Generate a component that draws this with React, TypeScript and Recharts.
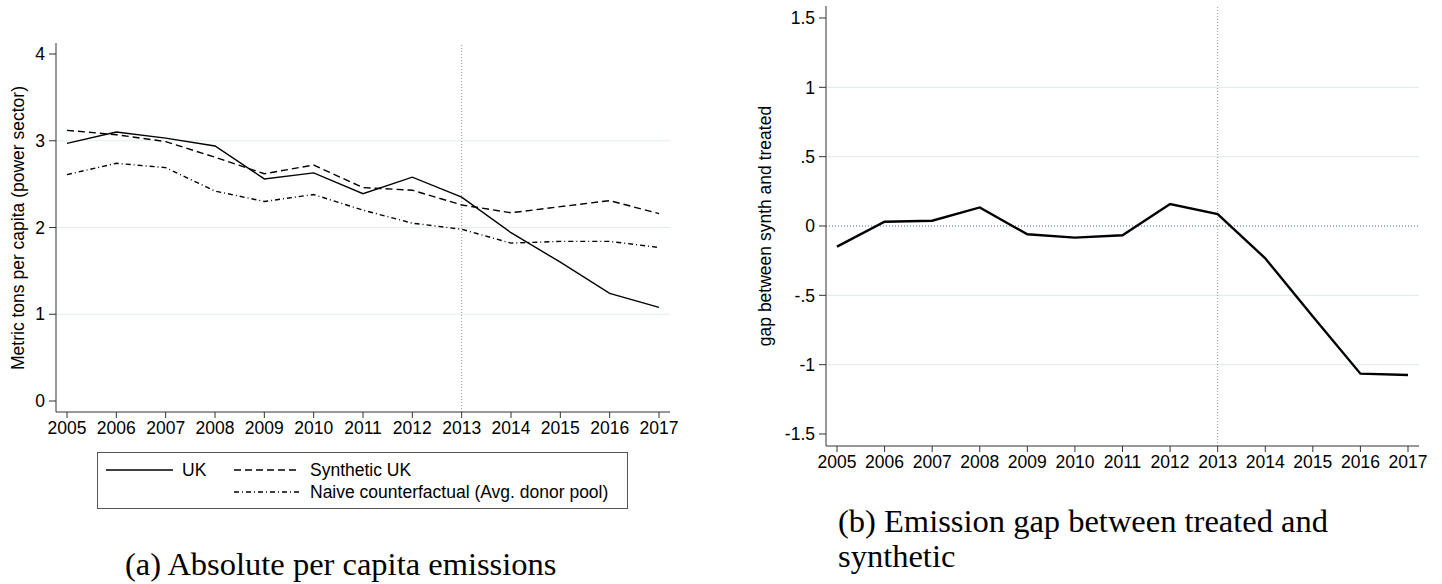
import React from 'react';
import { LineChart, Line, XAxis, YAxis, ReferenceLine } from 'recharts';

// values
const years = [2005, 2006, 2007, 2008, 2009, 2010, 2011, 2012, 2013, 2014, 2015, 2016, 2017];
const ukEmissions = [2.97, 3.1, 3.03, 2.94, 2.56, 2.63, 2.39, 2.58, 2.35, 1.94, 1.6, 1.24, 1.08];
const syntheticUk = [3.12, 3.07, 2.99, 2.81, 2.62, 2.72, 2.46, 2.43, 2.26, 2.17, 2.24, 2.31, 2.16];
const naiveCounterfactual = [2.61, 2.74, 2.69, 2.42, 2.3, 2.38, 2.2, 2.05, 1.98, 1.82, 1.84, 1.84, 1.77];
const gapSynthTreated = [-0.149, 0.031, 0.038, 0.134, -0.06, -0.084, -0.067, 0.158, 0.086, -0.233, -0.652, -1.065, -1.074];

const leftTicks = [0, 1, 2, 3, 4];
const leftGrid = [1, 2, 3];
const rightTicks = [-1.5, -1, -0.5, 0, 0.5, 1, 1.5];
const rightGrid = [-1, -0.5, 0.5, 1];
const treatmentYear = 2013;

const series = [
  { key: 'uk', name: 'UK', dash: undefined as string | undefined },
  { key: 'synth', name: 'Synthetic UK', dash: '7 4' },
  { key: 'naive', name: 'Naive counterfactual (Avg. donor pool)', dash: '5 3 1 3' },
];

const absRows = years.map((year, i) => ({
  year,
  uk: ukEmissions[i],
  synth: syntheticUk[i],
  naive: naiveCounterfactual[i],
}));
const gapRows = years.map((year, i) => ({ year, gap: gapSynthTreated[i] }));

const SANS = '"Liberation Sans", Arial, sans-serif';
const SERIF = '"Liberation Serif", "Times New Roman", serif';
const FS = 17.5;
const tickStyle = { fontSize: FS, fill: '#000', fontFamily: SANS };
const axisStroke = { stroke: '#333' };

// stata style: .5 instead of 0.5
const stataNum = (v: number) => String(v).replace('0.', '.');

function LegendBox() {
  return (
    <div
      style={{
        position: 'absolute',
        left: 97,
        top: 452,
        width: 531,
        height: 57,
        boxSizing: 'border-box',
        border: '1px solid #555',
        fontFamily: SANS,
        fontSize: 17.5,
      }}
    >
      {series.map((s, i) => {
        const left = i === 0 ? 8 : 136;
        const top = i === 2 ? 39 : 17;
        return (
          <div key={s.key} style={{ position: 'absolute', left, top: top - 10, height: 20, display: 'flex', alignItems: 'center' }}>
            <svg width={67} height={20}>
              <line x1={0} x2={i === 0 ? 67 : 65} y1={10} y2={10} stroke="#000" strokeWidth={1.4} strokeDasharray={s.dash} />
            </svg>
            <span style={{ marginLeft: 9, whiteSpace: 'nowrap' }}>{s.name}</span>
          </div>
        );
      })}
    </div>
  );
}

export default function App() {
  return (
    <div style={{ position: 'absolute', left: 0, top: 0, width: 1442, height: 584, background: '#fff' }}>
      {/* (a) absolute emissions */}
      <div style={{ position: 'absolute', left: 0, top: 0 }}>
        <LineChart width={700} height={460} data={absRows} margin={{ top: 43, right: 30, bottom: 20, left: 0 }}>
          {leftGrid.map((v) => (
            <ReferenceLine key={v} y={v} stroke="#e3ecef" strokeWidth={1.2} />
          ))}
          <ReferenceLine x={treatmentYear} stroke="#999" strokeDasharray="1 2" />
          <XAxis
            dataKey="year"
            type="number"
            domain={[2005, 2017]}
            ticks={years}
            interval={0}
            padding={{ left: 11, right: 11 }}
            height={28}
            tickSize={6}
            tickMargin={4}
            fontSize={FS}
            axisLine={axisStroke}
            tickLine={axisStroke}
            tick={tickStyle}
          />
          <YAxis
            type="number"
            domain={[0, 4]}
            ticks={leftTicks}
            interval={0}
            padding={{ top: 11, bottom: 11 }}
            width={56}
            tickSize={7}
            tickMargin={4}
            fontSize={FS}
            axisLine={axisStroke}
            tickLine={axisStroke}
            tick={tickStyle}
          />
          {series.map((s) => (
            <Line
              key={s.key}
              dataKey={s.key}
              type="linear"
              stroke="#000"
              strokeWidth={1.4}
              strokeDasharray={s.dash}
              dot={false}
              isAnimationActive={false}
            />
          ))}
        </LineChart>
      </div>
      <LegendBox />

      {/* (b) gap */}
      <div style={{ position: 'absolute', left: 720, top: 0 }}>
        <LineChart width={722} height={494} data={gapRows} margin={{ top: 6, right: 23, bottom: 24, left: 0 }}>
          {rightGrid.map((v) => (
            <ReferenceLine key={v} y={v} stroke="#e3ecef" strokeWidth={1.2} />
          ))}
          <ReferenceLine y={0} stroke="#4f6b78" strokeWidth={1.2} strokeDasharray="1 2" />
          <ReferenceLine x={treatmentYear} stroke="#999" strokeDasharray="1 2" />
          <XAxis
            dataKey="year"
            type="number"
            domain={[2005, 2017]}
            ticks={years}
            interval={0}
            padding={{ left: 11, right: 11 }}
            height={24}
            tickSize={6}
            tickMargin={4}
            fontSize={FS}
            axisLine={axisStroke}
            tickLine={axisStroke}
            tick={tickStyle}
          />
          <YAxis
            type="number"
            domain={[-1.5, 1.5]}
            ticks={rightTicks}
            interval={0}
            padding={{ top: 12, bottom: 12 }}
            width={106}
            tickSize={7}
            tickMargin={4}
            fontSize={FS}
            tickFormatter={stataNum}
            axisLine={axisStroke}
            tickLine={axisStroke}
            tick={tickStyle}
          />
          <Line dataKey="gap" type="linear" stroke="#000" strokeWidth={2.4} dot={false} isAnimationActive={false} />
        </LineChart>
      </div>

      {/* axis titles and captions */}
      <svg width={1442} height={584} style={{ position: 'absolute', left: 0, top: 0, pointerEvents: 'none' }}>
        <g fontFamily={SANS} fontSize={FS} fill="#000" textAnchor="middle" dominantBaseline="central">
          <text x={18} y={228} transform="rotate(-90 18 228)">Metric tons per capita (power sector)</text>
          <text x={765} y={226} transform="rotate(-90 765 226)">gap between synth and treated</text>
        </g>
        <g fontFamily={SERIF} fontSize={32.5} fill="#000">
          <text x={125} y={575}>(a) Absolute per capita emissions</text>
          <text x={838} y={532}>(b) Emission gap between treated and</text>
          <text x={838} y={567}>synthetic</text>
        </g>
      </svg>
    </div>
  );
}
